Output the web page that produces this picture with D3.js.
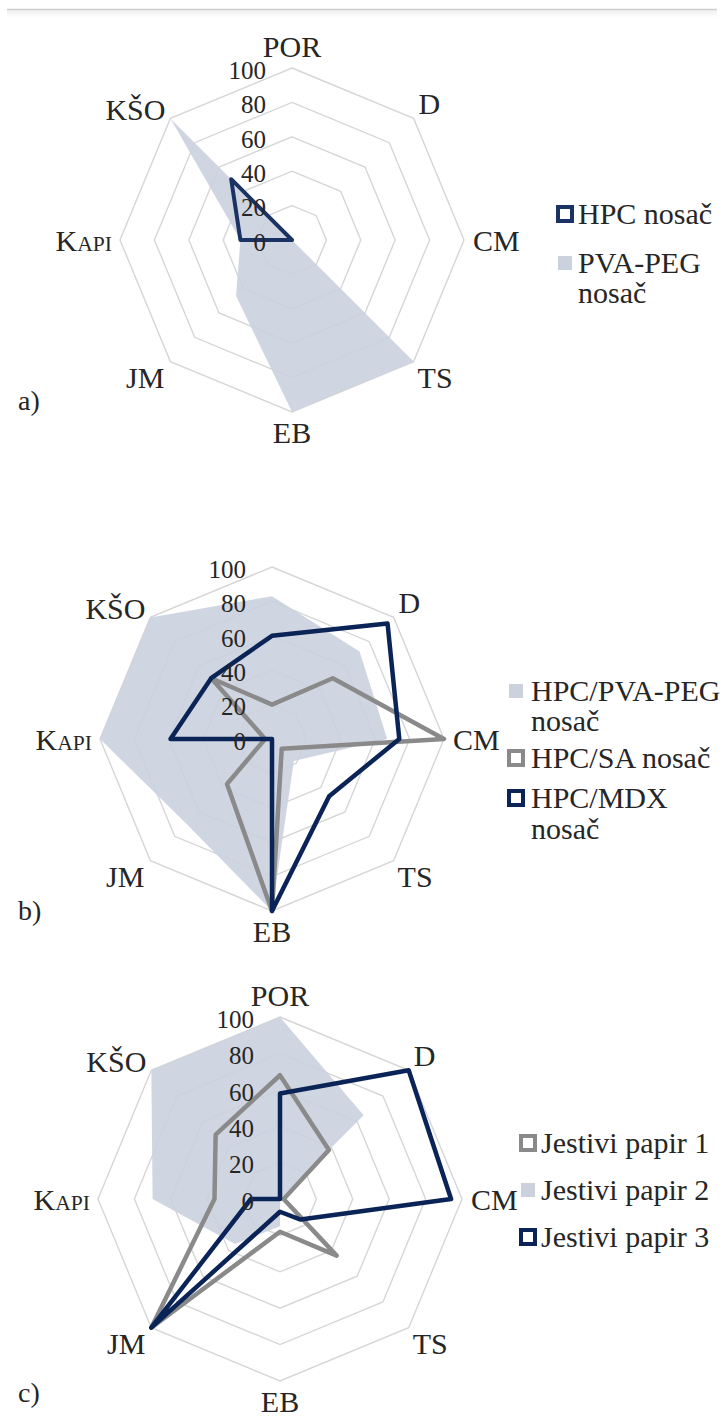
<!DOCTYPE html>
<html>
<head>
<meta charset="utf-8">
<script src="https://cdn.jsdelivr.net/npm/d3@7"></script>
<style>
  body { margin: 0; background: #fff; }
  svg { display: block; }
</style>
</head>
<body>
<svg id="chart" width="722" height="1420" font-family="'Liberation Serif', 'DejaVu Serif', serif"></svg>
<script>
// Radar axes, clockwise from the top
const categories = ["POR", "D", "CM", "TS", "EB", "JM", "KAPI", "KŠO"];
const tickValues = [0, 20, 40, 60, 80, 100];

// a) single-polymer carriers
const hpcNosac = [0, 0, 0, 0, 0, 0, 30, 50];
const pvaPegNosac = [0, 0, 0, 100, 100, 46, 30, 100];

// b) HPC blends
const hpcPvaPegNosac = [83, 72, 67, 18, 100, 70, 100, 100];
const hpcSaNosac = [20, 50, 100, 8, 100, 37, 4, 50];
const hpcMdxNosac = [60, 95, 74, 47, 100, 0, 59, 50];

// c) edible papers
const jestiviPapir1 = [68, 38, 2, 44, 18, 100, 36, 50];
const jestiviPapir2 = [100, 65, 0, 0, 15, 35, 70, 100];
const jestiviPapir3 = [58, 100, 94, 16, 7, 100, 16, 0];

const NAVY = "#0b2458";
const GREY = "#8a8a8a";
const FILL = "#cbd2de";
const GRID = "#d6d6d6";
const INK = "#262626";

const panels = [
  {
    tag: "a)", tagY: 400, cx: 292, cy: 240, r: 172, hideLabels: [],
    legend: { markerX: 556, textX: 578 },
    series: [
      { lines: ["HPC nosač"], values: hpcNosac, kind: "line", color: "#1a3264", width: 4, y: 213 },
      { lines: ["PVA-PEG", "nosač"], values: pvaPegNosac, kind: "area", y: 262, lh: 30 }
    ]
  },
  {
    tag: "b)", tagY: 910, cx: 272, cy: 739, r: 172, hideLabels: ["POR"],
    legend: { markerX: 507, textX: 531 },
    series: [
      { lines: ["HPC/PVA-PEG", "nosač"], values: hpcPvaPegNosac, kind: "area", y: 690, lh: 30 },
      { lines: ["HPC/SA nosač"], values: hpcSaNosac, kind: "line", color: GREY, width: 4.5, y: 757 },
      { lines: ["HPC/MDX", "nosač"], values: hpcMdxNosac, kind: "line", color: NAVY, width: 4.5, y: 797, lh: 31 }
    ]
  },
  {
    tag: "c)", tagY: 1392, cx: 280, cy: 1199, r: 182, hideLabels: [],
    legend: { markerX: 519, textX: 541 },
    series: [
      { lines: ["Jestivi papir 1"], values: jestiviPapir1, kind: "line", color: GREY, width: 4.5, y: 1142 },
      { lines: ["Jestivi papir 2"], values: jestiviPapir2, kind: "area", y: 1189 },
      { lines: ["Jestivi papir 3"], values: jestiviPapir3, kind: "line", color: NAVY, width: 4.5, y: 1236 }
    ]
  }
];

const svg = d3.select("#chart");

// thin rule along the top edge with a soft shadow underneath
const defs = svg.append("defs");
const grad = defs.append("linearGradient").attr("id", "ruleShadow").attr("x1", 0).attr("x2", 0).attr("y1", 0).attr("y2", 1);
grad.append("stop").attr("offset", 0).attr("stop-color", "#000").attr("stop-opacity", 0.06);
grad.append("stop").attr("offset", 1).attr("stop-color", "#000").attr("stop-opacity", 0);
svg.append("rect").attr("x", 7).attr("y", 10).attr("width", 710).attr("height", 8).attr("fill", "url(#ruleShadow)");
svg.append("line").attr("x1", 7).attr("x2", 717).attr("y1", 9.5).attr("y2", 9.5)
  .attr("stroke", "#cfcfcf").attr("stroke-width", 1.5);

const n = categories.length;
const angle = d3.scaleLinear().domain([0, n]).range([0, 2 * Math.PI]);

// label placement next to the outer vertex of each axis
function labelPlacement(sx, sy) {
  const eps = 1e-6;
  if (Math.abs(sx) < eps) return { anchor: "middle", dx: 0, dy: sy < 0 ? -22 : 20 };
  if (Math.abs(sy) < eps) return { anchor: sx > 0 ? "start" : "end", dx: sx > 0 ? 9 : -8, dy: 0 };
  if (sy < 0) return sx > 0 ? { anchor: "start", dx: 5, dy: -15 } : { anchor: "end", dx: -5, dy: -9 };
  return sx > 0 ? { anchor: "start", dx: 4, dy: 16 } : { anchor: "end", dx: -6, dy: 16 };
}

panels.forEach(p => {
  const g = svg.append("g").attr("transform", `translate(${p.cx},${p.cy})`);
  const rScale = d3.scaleLinear().domain([0, 100]).range([0, p.r]);

  const radial = d3.lineRadial()
    .angle((d, i) => angle(i))
    .radius(d => rScale(d))
    .curve(d3.curveLinearClosed);

  // octagonal grid rings
  g.selectAll(".ring")
    .data(tickValues.filter(t => t > 0))
    .join("path")
    .attr("d", t => radial(categories.map(() => t)))
    .attr("fill", "none")
    .attr("stroke", GRID)
    .attr("stroke-width", 1.4);

  // filled series first, outlined series on top
  p.series.filter(s => s.kind === "area").forEach(s => {
    g.append("path")
      .attr("d", radial(s.values))
      .attr("fill", FILL)
      .attr("fill-opacity", 0.9);
  });
  p.series.filter(s => s.kind === "line").forEach(s => {
    g.append("path")
      .attr("d", radial(s.values))
      .attr("fill", "none")
      .attr("stroke", s.color)
      .attr("stroke-width", s.width)
      .attr("stroke-linejoin", "round");
  });

  // value ticks along the POR axis
  g.selectAll(".tick")
    .data(tickValues)
    .join("text")
    .attr("x", -26)
    .attr("y", t => -rScale(t) + 2)
    .attr("dy", "0.35em")
    .attr("text-anchor", "end")
    .attr("font-size", 25)
    .attr("fill", INK)
    .text(t => t);

  // axis category labels
  categories.forEach((c, i) => {
    if (p.hideLabels.includes(c)) return;
    const a = angle(i);
    const sx = Math.sin(a), sy = -Math.cos(a);
    const vx = sx * rScale(100), vy = sy * rScale(100);
    const pl = labelPlacement(sx, sy);
    const t = g.append("text")
      .attr("x", vx + pl.dx)
      .attr("y", vy + pl.dy)
      .attr("dy", "0.35em")
      .attr("text-anchor", pl.anchor)
      .attr("font-size", 30)
      .attr("fill", INK);
    if (c === "KAPI") {
      t.append("tspan").text("K");
      t.append("tspan").attr("font-size", "0.72em").attr("dy", "0.02em").text("API");
    } else {
      t.text(c);
    }
  });

  // panel tag
  svg.append("text")
    .attr("x", 18).attr("y", p.tagY).attr("dy", "0.35em")
    .attr("font-size", 28).attr("fill", INK).text(p.tag);

  // legend
  p.series.forEach(s => {
    const my = s.y + 1;
    if (s.kind === "line") {
      svg.append("rect")
        .attr("x", p.legend.markerX + 2).attr("y", my - 7)
        .attr("width", 14).attr("height", 14)
        .attr("fill", "#fff").attr("stroke", s.color).attr("stroke-width", 4);
    } else {
      svg.append("rect")
        .attr("x", p.legend.markerX + 2).attr("y", my - 7)
        .attr("width", 14).attr("height", 14)
        .attr("fill", FILL);
    }
    s.lines.forEach((ln, k) => {
      svg.append("text")
        .attr("x", p.legend.textX)
        .attr("y", s.y + k * (s.lh || 30))
        .attr("dy", "0.35em")
        .attr("font-size", 30)
        .attr("fill", INK)
        .text(ln);
    });
  });
});
</script>
</body>
</html>
